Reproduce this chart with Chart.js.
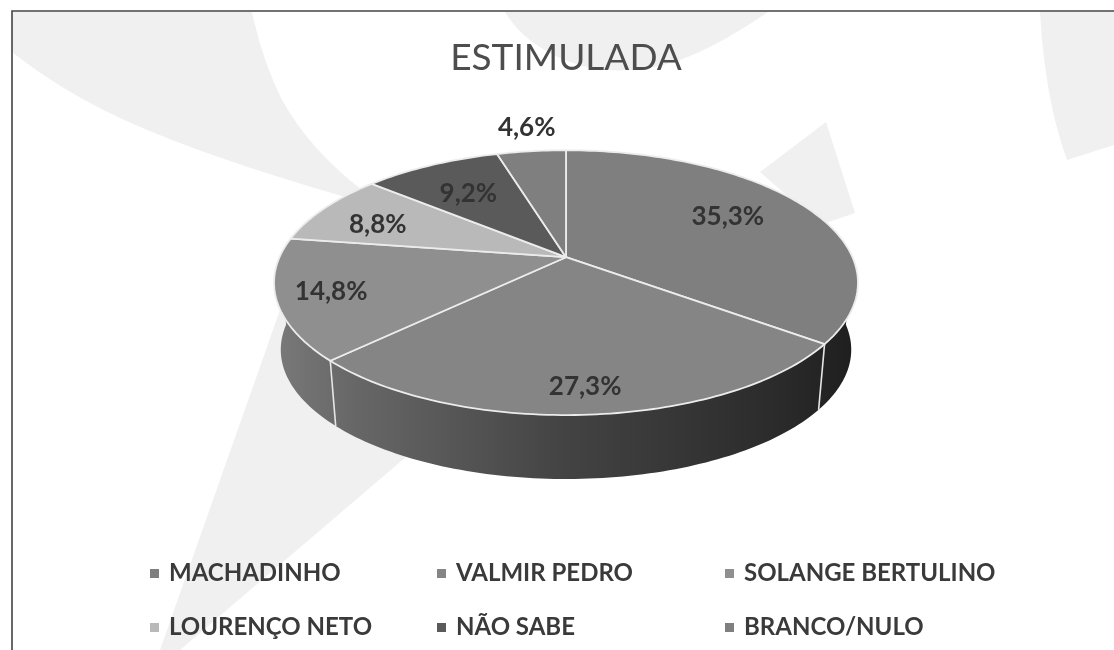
<!DOCTYPE html>
<html>
<head>
<meta charset="utf-8">
<script src="https://cdn.jsdelivr.net/npm/chart.js@4"></script>
<style>
  html, body { margin: 0; padding: 0; background: #fff; overflow: hidden; }
  #wrap { position: relative; width: 1114px; height: 650px; filter: blur(0.6px); }
  #wrap svg, #wrap canvas { position: absolute; left: 0; top: 0; }
</style>
</head>
<body>
<div id="wrap">
  <!-- watermark and frame of the scanned page -->
  <svg width="1114" height="650">
    <g fill="#f0f0f0">
      <path d="M12 12 H252 Q262 60 282 100 Q310 150 362 190 L345 197 Q200 155 120 118 Q60 90 12 52 Z"/>
      <path d="M505 12 H768 Q720 45 680 60 Q620 80 570 62 Q525 45 505 12 Z"/>
      <path d="M1040 12 H1114 V145 L1067 160 Q1045 100 1040 12 Z"/>
      <path d="M760 172 L826 122 L855 213 L820 225 Z"/>
      <path d="M280 310 L420 445 L180 650 H160 Z"/>
    </g>
    <path d="M12 650 V11 H1114" fill="none" stroke="#444" stroke-width="1.6"/>
  </svg>
  <canvas id="pieChart" width="1114" height="650"></canvas>
</div>
<script>
const categories = ["MACHADINHO", "VALMIR PEDRO", "SOLANGE BERTULINO", "LOURENÇO NETO", "NÃO SABE", "BRANCO/NULO"];
const shares = [35.3, 27.3, 14.8, 8.8, 9.2, 4.6];
const sliceColours = ["#7f7f7f", "#858585", "#8f8f8f", "#b9b9b9", "#5a5a5a", "#7f7f7f"];

// where each % label sits: fraction of the radius, small turn off the slice middle
const labelRadius = [0.69, 0.85, 0.82, 0.74, 0.67, 1.27];
const labelTurn = [-0.05, 0, 0, -0.06, -0.02, 0.01];

// legend is laid out in 3 fixed columns, chart.js would center each row
const legendColX = [150, 437, 725];
const legendRowY = [573, 627];

const squashY = 0.445; // flatten the disc
const tilt = 0.1924; // perspective, near edge bigger than far edge
const depthScale = 0.977;
const depthY = 67.6;

function project(el, angle, frac = 1) {
  const u = Math.cos(angle) * frac;
  const v = Math.sin(angle) * frac;
  const w = 1 - tilt * v;
  return {
    x: el.x + (el.outerRadius * u) / w,
    y: el.y + (el.outerRadius * squashY * v) / w,
  };
}

function projectBottom(el, angle) {
  const p = project(el, angle);
  return {
    x: el.x + (p.x - el.x) * depthScale,
    y: el.y + depthY + (p.y - el.y) * depthScale,
  };
}

function arcPoints(el, fn, a0, a1) {
  const steps = Math.max(2, Math.ceil(Math.abs(a1 - a0) / 0.02));
  const pts = [];
  for (let i = 0; i <= steps; i++) {
    pts.push(fn(el, a0 + ((a1 - a0) * i) / steps));
  }
  return pts;
}

function tracePath(ctx, pts) {
  pts.forEach((p, i) => (i ? ctx.lineTo(p.x, p.y) : ctx.moveTo(p.x, p.y)));
}

const pie3d = {
  id: "pie3d",
  // the arcs keep their angles from chart.js, only the drawing is replaced
  beforeDatasetDraw(chart) {
    const ctx = chart.ctx;
    const arcs = chart.getDatasetMeta(0).data.map((a) =>
      a.getProps(["x", "y", "startAngle", "endAngle", "outerRadius"], true)
    );
    const first = arcs[0];

    const wallGrad = ctx.createLinearGradient(first.x - first.outerRadius, 0, first.x + first.outerRadius, 0);
    wallGrad.addColorStop(0, "#787878");
    wallGrad.addColorStop(0.12, "#686868");
    wallGrad.addColorStop(0.5, "#434343");
    wallGrad.addColorStop(0.88, "#2a2a2a");
    wallGrad.addColorStop(1, "#1f1f1f");

    ctx.save();
    ctx.lineJoin = "round";

    // side wall, front half only
    arcs.forEach((el) => {
      const a0 = Math.max(el.startAngle, 0);
      const a1 = Math.min(el.endAngle, Math.PI);
      if (a1 <= a0) return;
      ctx.beginPath();
      tracePath(ctx, arcPoints(el, project, a0, a1).concat(arcPoints(el, projectBottom, a1, a0)));
      ctx.closePath();
      ctx.fillStyle = wallGrad;
      ctx.fill();
    });

    // white seams on the wall
    arcs.forEach((el) => {
      if (el.endAngle <= 0 || el.endAngle >= Math.PI) return;
      const top = project(el, el.endAngle);
      const bot = projectBottom(el, el.endAngle);
      ctx.beginPath();
      ctx.moveTo(top.x, top.y);
      ctx.lineTo(bot.x, bot.y);
      ctx.strokeStyle = "#e6e6e6";
      ctx.lineWidth = 1.6;
      ctx.stroke();
    });

    // top face
    arcs.forEach((el, i) => {
      ctx.beginPath();
      tracePath(ctx, [{ x: el.x, y: el.y }].concat(arcPoints(el, project, el.startAngle, el.endAngle)));
      ctx.closePath();
      ctx.fillStyle = sliceColours[i];
      ctx.fill();
      ctx.strokeStyle = "#ececec";
      ctx.lineWidth = 1.8;
      ctx.stroke();
    });

    ctx.restore();
    return false;
  },
  afterDraw(chart) {
    const ctx = chart.ctx;
    ctx.save();

    // % labels
    ctx.font = "bold 26px Lato";
    ctx.fillStyle = "#333333";
    ctx.textAlign = "center";
    ctx.textBaseline = "middle";
    chart.getDatasetMeta(0).data.forEach((a, i) => {
      const el = a.getProps(["x", "y", "startAngle", "endAngle", "outerRadius"], true);
      const mid = (el.startAngle + el.endAngle) / 2 + labelTurn[i];
      const p = project(el, mid, labelRadius[i]);
      ctx.fillText(shares[i].toFixed(1).replace(".", ",") + "%", p.x, p.y);
    });

    // legend
    ctx.font = "bold 24px Lato";
    ctx.textAlign = "left";
    categories.forEach((name, i) => {
      const x = legendColX[i % 3];
      const y = legendRowY[Math.floor(i / 3)];
      ctx.fillStyle = sliceColours[i];
      ctx.fillRect(x, y - 4, 9, 9);
      ctx.fillStyle = "#3a3a3a";
      ctx.fillText(name, x + 19, y);
    });
    ctx.restore();
  },
};

new Chart(document.getElementById("pieChart"), {
  type: "pie",
  data: {
    labels: categories,
    datasets: [{ data: shares, backgroundColor: sliceColours, radius: 286.5 }],
  },
  options: {
    responsive: false,
    animation: false,
    layout: { padding: { left: 18, bottom: 223 } },
    plugins: {
      legend: { display: false },
      tooltip: { enabled: false },
      title: {
        display: true,
        text: "ESTIMULADA",
        color: "#4d4d4d",
        font: { family: "Lato", size: 37, weight: "normal" },
        padding: { top: 36, bottom: 7 },
      },
    },
  },
  plugins: [pie3d],
});
</script>
</body>
</html>
